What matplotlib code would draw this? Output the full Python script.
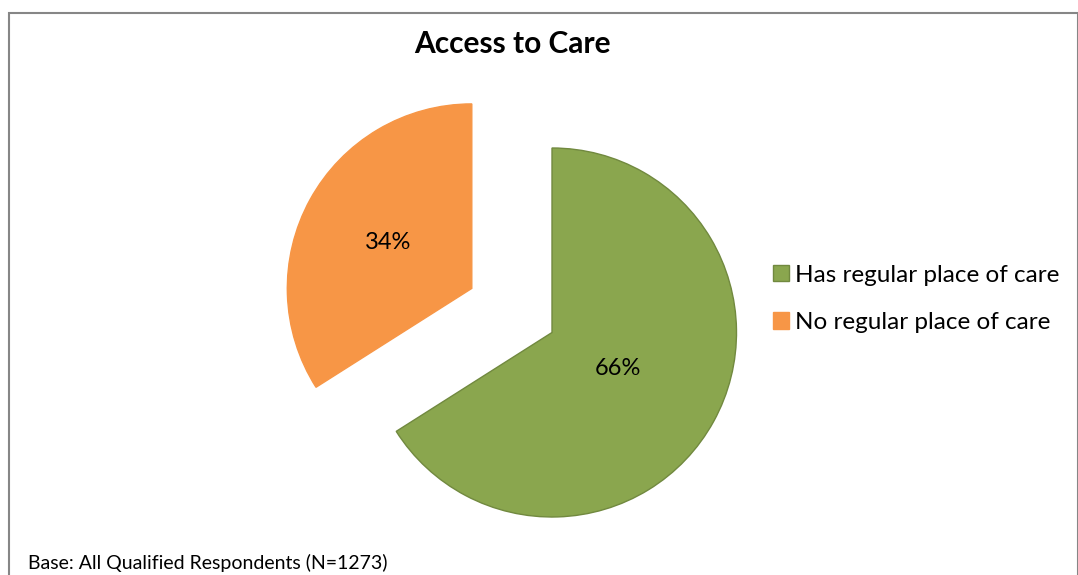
import matplotlib
matplotlib.use("Agg")
import matplotlib.pyplot as plt
from matplotlib.patches import Rectangle, Patch
import numpy as np

labels = ["Has regular place of care", "No regular place of care"]
shares = [66, 34]
colors = ["#8AA64E", "#F79646"]
edge_colors = ["#71893F", "#F79646"]
explode = [0.0, 0.496]
label_dist = [0.41, 0.52]

plt.rcParams["font.family"] = ["Lato", "DejaVu Sans"]

W, H = 1078, 575
fig = plt.figure(figsize=(W / 100, H / 100), dpi=100)
ax = fig.add_axes([0, 0, 1, 1])

wedges, texts, autotexts = ax.pie(
    shares, colors=colors, explode=explode, startangle=90, counterclock=False,
    autopct=lambda p: f"{p:.0f}%", pctdistance=0.45, radius=1.0,
    wedgeprops=dict(linewidth=1.0),
    textprops=dict(fontsize=17, color="black"),
)
for w, ec in zip(wedges, edge_colors):
    w.set_edgecolor(ec)

# place the percentage labels along each wedge's bisector
for w, t, d in zip(wedges, autotexts, label_dist):
    mid = np.deg2rad((w.theta1 + w.theta2) / 2)
    cx, cy = w.center
    t.set_position((cx + d * np.cos(mid), cy + d * np.sin(mid)))

# scale: radius = 184.5 px, pie centre at (552, 332.5) from top-left
r_px = 184.5
cx_px, cy_px = 552, H - 332.5
ax.set_xlim(-cx_px / r_px, (W - cx_px) / r_px)
ax.set_ylim(-cy_px / r_px, (H - cy_px) / r_px)
ax.set_axis_off()

fig.text(512 / W, 1 - 44 / H, "Access to Care", ha="center", va="center",
         fontsize=21.5, fontweight="bold")

handles = [Patch(facecolor=c, edgecolor=e) for c, e in zip(colors, edge_colors)]
fig.legend(handles, labels, loc="center left", bbox_to_anchor=(773 / W, 1 - 299 / H),
           frameon=False, fontsize=17.5, handlelength=0.65, handleheight=0.65,
           handletextpad=0.25, labelspacing=1.08, borderaxespad=0, borderpad=0)

fig.text(28 / W, 1 - 563 / H, "Base: All Qualified Respondents (N=1273)",
         ha="left", va="center", fontsize=14)

fig.patches.append(Rectangle((8.5 / W, -0.1), (1077.5 - 8.5) / W, 1.1 - 12.5 / H - 0.0,
                             transform=fig.transFigure, fill=False,
                             edgecolor="#868686", linewidth=1.5))

fig.savefig("out.png", dpi=100, facecolor="white")
